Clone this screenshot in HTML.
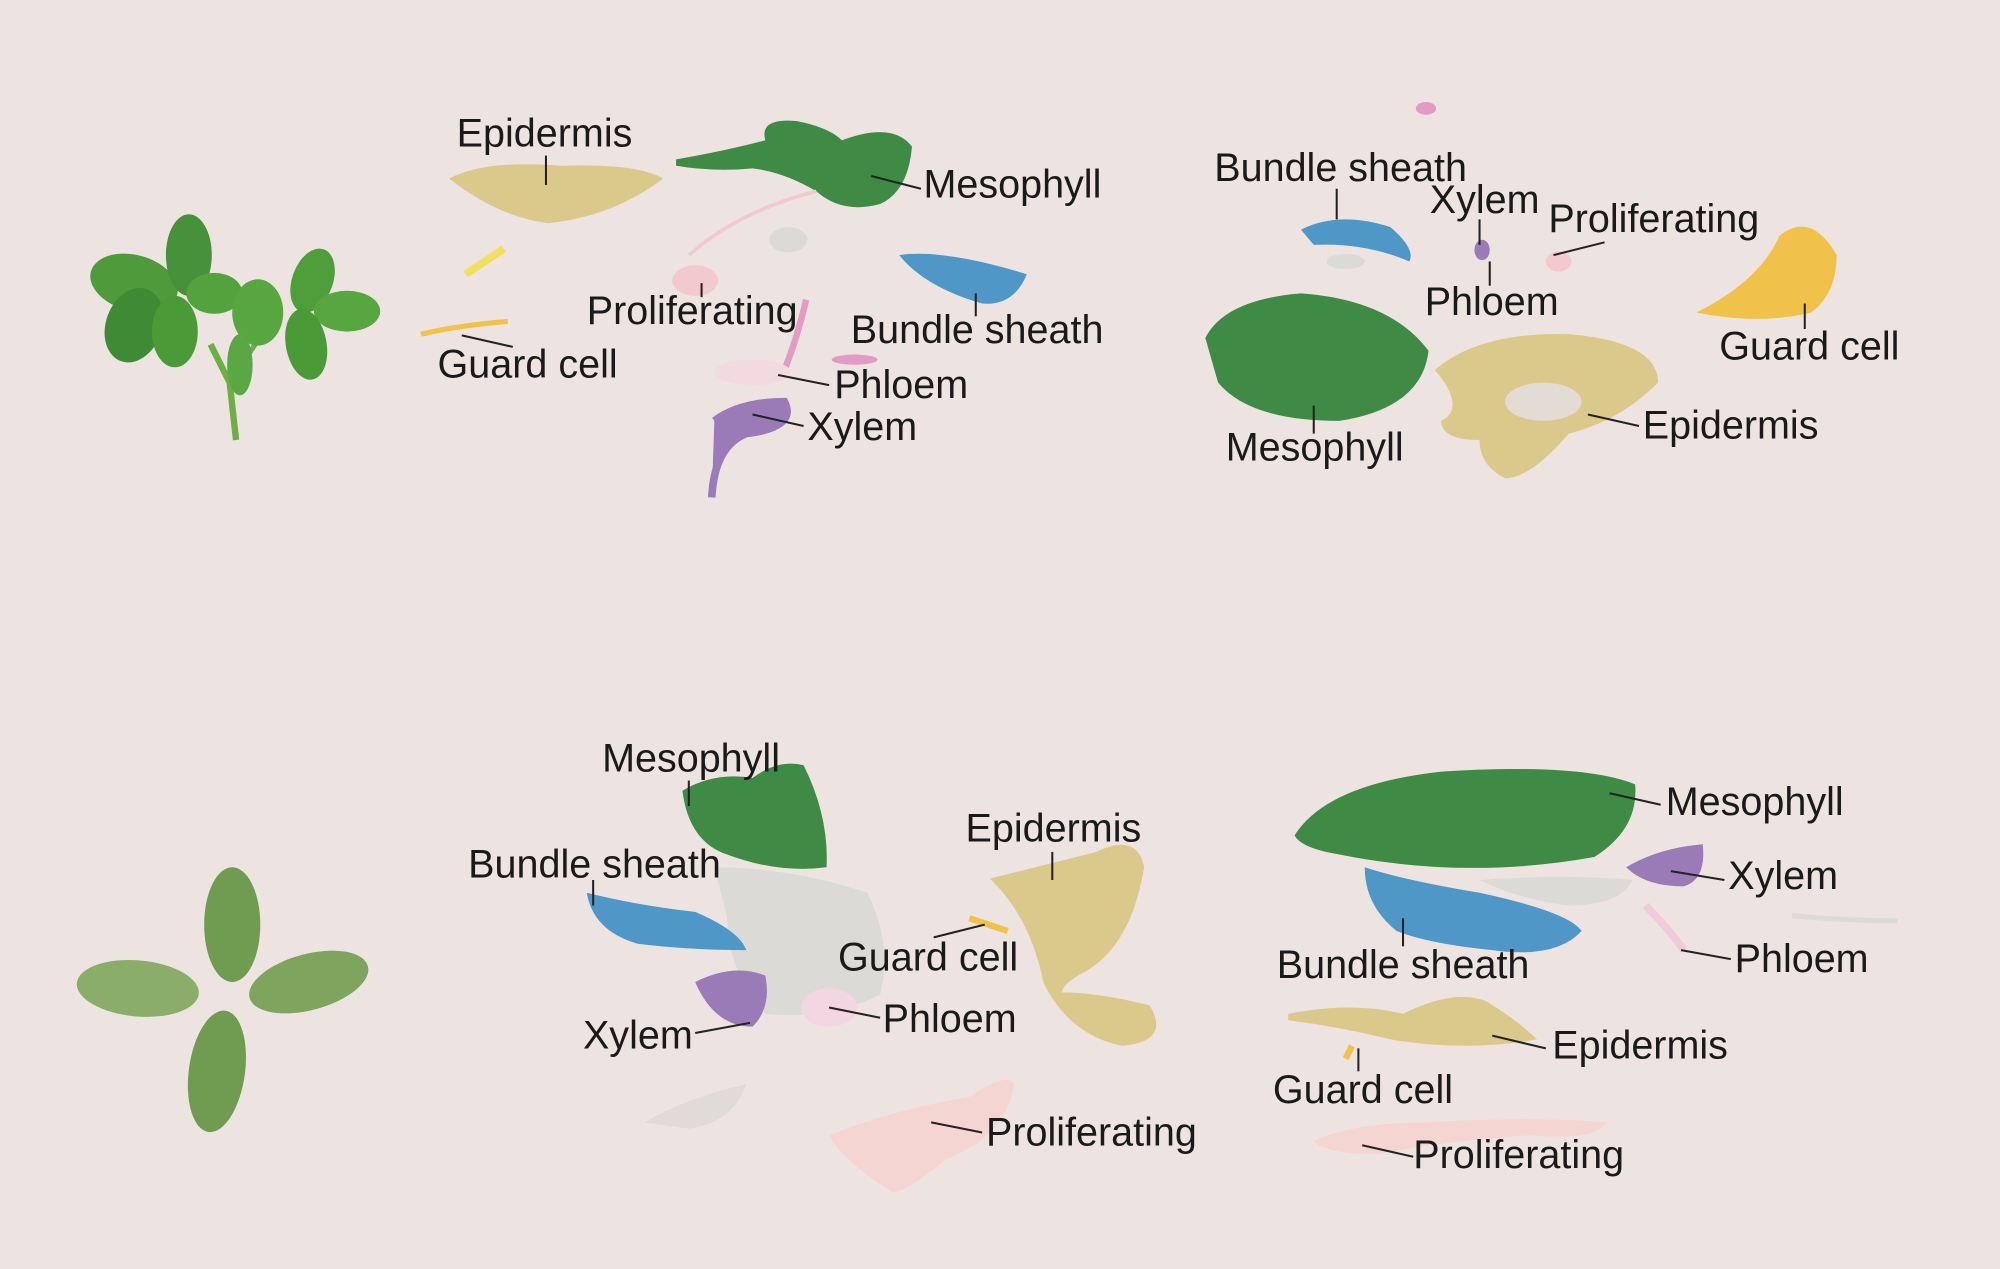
<!DOCTYPE html>
<html><head><meta charset="utf-8"><style>
html,body{margin:0;padding:0;background:#ede4e1;}
svg{display:block;}
text{font-family:"Liberation Sans",sans-serif;font-size:31px;fill:#1a1a1a;}
line{stroke:#222;stroke-width:1.6;}
</style></head><body>
<svg width="2000" height="1269" viewBox="0 0 1568 995" xmlns="http://www.w3.org/2000/svg">
<rect width="1568" height="995" fill="#ede4e1"/>
<!-- top-left plant -->
<g fill="#4f9a3a">
<path d="M185 345 L180 300 L165 270" stroke="#6fae45" stroke-width="5" fill="none"/>
<path d="M180 300 L200 270" stroke="#6fae45" stroke-width="4" fill="none"/>
<ellipse cx="105" cy="222" rx="35" ry="22" transform="rotate(15 105 222)"/>
<ellipse cx="148" cy="200" rx="18" ry="32" fill="#46913a"/>
<ellipse cx="105" cy="255" rx="22" ry="30" transform="rotate(20 105 255)" fill="#3f8a34"/>
<ellipse cx="137" cy="260" rx="18" ry="28" fill="#4a9a38"/>
<ellipse cx="168" cy="230" rx="22" ry="16" fill="#52a23e"/>
<ellipse cx="202" cy="245" rx="20" ry="26" fill="#57a640"/>
<ellipse cx="245" cy="220" rx="16" ry="26" transform="rotate(20 245 220)" fill="#4f9e3c"/>
<ellipse cx="272" cy="244" rx="26" ry="16" fill="#57a640"/>
<ellipse cx="240" cy="270" rx="16" ry="28" transform="rotate(-10 240 270)" fill="#4a9a38"/>
<ellipse cx="188" cy="286" rx="10" ry="24" fill="#5aa844"/>
</g>
<!-- bottom-left plant -->
<g fill="#7aa55c">
<ellipse cx="182" cy="725" rx="22" ry="45" fill="#6f9c50"/>
<ellipse cx="108" cy="775" rx="48" ry="22" transform="rotate(5 108 775)" fill="#8aae6a"/>
<ellipse cx="242" cy="770" rx="48" ry="22" transform="rotate(-15 242 770)" fill="#7ea45e"/>
<ellipse cx="170" cy="840" rx="22" ry="48" transform="rotate(8 170 840)" fill="#6f9c50"/>
</g>
<!-- Top middle UMAP -->
<path d="M352 140 Q380 125 440 130 Q500 128 520 140 Q480 170 430 175 Q390 170 352 140Z" fill="#dbc98c"/>
<path d="M530 125 Q570 118 600 110 Q595 92 625 95 Q650 100 660 110 Q700 95 715 115 Q712 150 690 160 Q660 168 640 150 Q615 135 590 132 Q560 135 530 130Z" fill="#3f8b45"/>
<path d="M705 200 Q740 195 805 215 Q795 240 770 238 Q725 225 705 200Z" fill="#4f97c6"/>
<path d="M330 262 Q360 255 398 252" stroke="#f0c24a" stroke-width="4" fill="none"/>
<path d="M365 215 Q380 205 395 195" stroke="#f0e060" stroke-width="6" fill="none"/>
<path d="M540 200 Q580 165 640 150" stroke="#f2c9cc" stroke-width="3" fill="none"/>
<ellipse cx="545" cy="220" rx="18" ry="12" fill="#f2c9cc"/>
<ellipse cx="618" cy="188" rx="15" ry="10" fill="#dcdad6"/>
<path d="M632 235 Q625 265 615 290" stroke="#e39ac4" stroke-width="5" fill="none"/>
<ellipse cx="670" cy="282" rx="18" ry="4" fill="#e39ac4"/>
<ellipse cx="590" cy="292" rx="30" ry="10" fill="#f2dae0"/>
<path d="M560 330 Q580 315 615 315 Q625 335 585 340 Q560 350 558 390" stroke="#9a7bb8" stroke-width="6" fill="#9a7bb8"/>
<!-- Top right UMAP -->
<path d="M1020 180 Q1050 165 1090 178 Q1110 195 1105 205 Q1070 190 1030 192Z" fill="#4f97c6"/>
<path d="M945 265 Q960 235 1020 230 Q1090 235 1120 275 Q1115 320 1050 330 Q980 330 955 300Z" fill="#3f8b45"/>
<path d="M1125 290 Q1160 260 1230 262 Q1300 268 1300 300 Q1270 330 1230 340 Q1200 375 1180 375 Q1160 365 1160 345 Q1130 345 1130 330 Q1150 320 1125 290Z" fill="#dbc98c"/>
<ellipse cx="1210" cy="315" rx="30" ry="15" fill="#e2dcd4"/>
<path d="M1330 245 Q1380 220 1395 185 Q1420 165 1440 200 Q1440 230 1420 245 Q1380 255 1330 245Z" fill="#f0c24a"/>
<ellipse cx="1162" cy="196" rx="6" ry="8" fill="#9a7bb8"/>
<ellipse cx="1118" cy="85" rx="8" ry="5" fill="#e39ac4"/>
<ellipse cx="1222" cy="205" rx="10" ry="8" fill="#f2c9cc"/>
<ellipse cx="1055" cy="205" rx="15" ry="6" fill="#dcdad6"/>
<!-- Bottom middle UMAP -->
<path d="M535 620 Q560 605 590 610 Q610 595 630 600 Q650 640 648 680 Q610 685 570 670 Q540 660 535 620Z" fill="#3f8b45"/>
<path d="M560 680 Q620 680 680 700 Q700 740 690 780 Q650 800 600 795 Q570 760 570 720Z" fill="#dcdad6"/>
<path d="M460 700 Q500 710 545 715 Q580 730 585 745 Q540 745 500 740 Q465 730 460 700Z" fill="#4f97c6"/>
<path d="M545 770 Q575 755 600 765 Q605 790 590 805 Q560 805 545 770Z" fill="#9a7bb8"/>
<ellipse cx="650" cy="790" rx="22" ry="15" fill="#f2d6e2"/>
<path d="M780 690 Q820 680 860 670 Q890 655 895 680 Q885 740 850 760 Q830 770 830 780 Q860 780 900 790 Q915 815 880 818 Q840 810 820 770 Q810 720 780 690Z" fill="#dbc98c" stroke="#dbc98c" stroke-width="4"/>
<path d="M760 720 Q775 725 790 730" stroke="#f0c24a" stroke-width="5"/>
<path d="M505 880 Q540 860 585 850 Q575 880 540 885Z" fill="#e0dbd6"/>
<path d="M650 890 Q700 870 760 860 Q790 840 795 850 Q790 890 740 910 Q710 935 700 935 Q660 910 650 890Z" fill="#f5d5d2"/>
<!-- Bottom right UMAP -->
<path d="M1015 655 Q1040 615 1130 605 Q1240 598 1282 615 Q1285 650 1250 672 Q1150 690 1050 670 Q1020 665 1015 655Z" fill="#3f8b45"/>
<path d="M1070 680 Q1100 690 1160 700 Q1230 715 1240 730 Q1220 752 1170 745 Q1120 740 1095 730 Q1070 710 1070 680Z" fill="#4f97c6"/>
<path d="M1160 690 Q1230 685 1280 690 Q1270 710 1230 710 Q1190 705 1160 690Z" fill="#dcdad6"/>
<path d="M1275 680 Q1300 665 1335 662 Q1338 690 1320 695 Q1290 695 1275 680Z" fill="#9a7bb8"/>
<path d="M1290 710 Q1310 730 1320 745" stroke="#f2c9dd" stroke-width="6"/>
<path d="M1405 718 Q1450 722 1488 722" stroke="#dcdad6" stroke-width="4"/>
<path d="M1010 795 Q1060 785 1100 795 Q1140 775 1165 785 Q1190 800 1205 815 Q1150 825 1090 815 Q1050 805 1010 800Z" fill="#dbc98c"/>
<path d="M1055 830 L1060 820" stroke="#f0c24a" stroke-width="5"/>
<path d="M1030 895 Q1060 880 1120 880 Q1200 875 1260 880 Q1250 895 1200 890 Q1130 895 1080 905 Q1040 905 1030 895Z" fill="#f5d5d2"/>
<!-- leader lines -->
<line x1="428" y1="122" x2="428" y2="145"/>
<line x1="683" y1="138" x2="722" y2="148"/>
<line x1="550" y1="222" x2="550" y2="233"/>
<line x1="362" y1="263" x2="402" y2="272"/>
<line x1="765" y1="230" x2="765" y2="248"/>
<line x1="610" y1="294" x2="650" y2="302"/>
<line x1="590" y1="325" x2="630" y2="334"/>
<line x1="1048" y1="148" x2="1048" y2="172"/>
<line x1="1160" y1="172" x2="1160" y2="192"/>
<line x1="1168" y1="205" x2="1168" y2="224"/>
<line x1="1218" y1="200" x2="1258" y2="190"/>
<line x1="1415" y1="238" x2="1415" y2="258"/>
<line x1="1030" y1="318" x2="1030" y2="340"/>
<line x1="1245" y1="325" x2="1285" y2="334"/>
<line x1="540" y1="612" x2="540" y2="632"/>
<line x1="465" y1="690" x2="465" y2="710"/>
<line x1="825" y1="668" x2="825" y2="690"/>
<line x1="732" y1="735" x2="772" y2="725"/>
<line x1="650" y1="790" x2="690" y2="798"/>
<line x1="545" y1="810" x2="588" y2="802"/>
<line x1="730" y1="880" x2="770" y2="888"/>
<line x1="1262" y1="622" x2="1302" y2="631"/>
<line x1="1310" y1="683" x2="1352" y2="690"/>
<line x1="1318" y1="745" x2="1357" y2="752"/>
<line x1="1100" y1="720" x2="1100" y2="742"/>
<line x1="1170" y1="812" x2="1212" y2="822"/>
<line x1="1065" y1="822" x2="1065" y2="840"/>
<line x1="1068" y1="898" x2="1108" y2="907"/>
<!-- labels -->
<text x="358" y="115">Epidermis</text>
<text x="724" y="155">Mesophyll</text>
<text x="460" y="254">Proliferating</text>
<text x="667" y="269">Bundle sheath</text>
<text x="343" y="296">Guard cell</text>
<text x="654" y="312">Phloem</text>
<text x="633" y="345">Xylem</text>
<text x="952" y="142">Bundle sheath</text>
<text x="1121" y="167">Xylem</text>
<text x="1214" y="182">Proliferating</text>
<text x="1117" y="247">Phloem</text>
<text x="1348" y="282">Guard cell</text>
<text x="1288" y="344">Epidermis</text>
<text x="961" y="361">Mesophyll</text>
<text x="472" y="605">Mesophyll</text>
<text x="757" y="660">Epidermis</text>
<text x="367" y="688">Bundle sheath</text>
<text x="657" y="761">Guard cell</text>
<text x="692" y="809">Phloem</text>
<text x="457" y="822">Xylem</text>
<text x="773" y="898">Proliferating</text>
<text x="1306" y="639">Mesophyll</text>
<text x="1355" y="697">Xylem</text>
<text x="1001" y="767">Bundle sheath</text>
<text x="1360" y="762">Phloem</text>
<text x="1217" y="830">Epidermis</text>
<text x="998" y="865">Guard cell</text>
<text x="1108" y="916">Proliferating</text>
</svg>
</body></html>
